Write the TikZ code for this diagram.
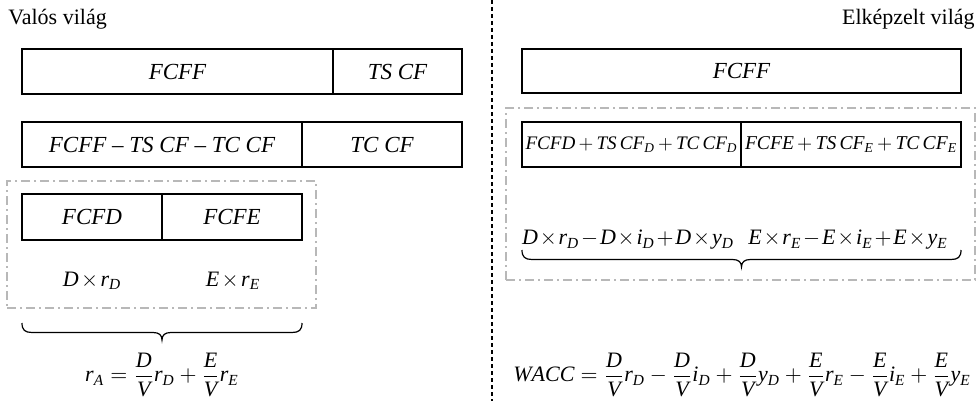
\documentclass[tikz,border=0pt]{standalone}
\usepackage{amsmath}
\usepackage{fontspec}
\setmainfont{Liberation Serif}
\newcommand\bracepath[3]{% x1, x2, y (top of ends)
  (#1,#3) .. controls (#1,{#3+7}) and ({#1+3},{#3+9.5}) .. ({#1+10},{#3+9.5})
  -- ({(#1+#2)/2-9},{#3+9.5}) .. controls ({(#1+#2)/2-3},{#3+9.5}) and ({(#1+#2)/2},{#3+12}) .. ({(#1+#2)/2},{#3+17})
  .. controls ({(#1+#2)/2},{#3+12}) and ({(#1+#2)/2+3},{#3+9.5}) .. ({(#1+#2)/2+9},{#3+9.5})
  -- ({#2-10},{#3+9.5}) .. controls ({#2-3},{#3+9.5}) and (#2,{#3+7}) .. (#2,#3)}
\begin{document}
\begin{tikzpicture}[x=0.5pt,y=-0.5pt,
  cell/.style={draw, line width=0.7pt, inner sep=0pt, font=\fontsize{11.5}{14}\selectfont\itshape},
  grp/.style={draw=black!28, line width=0.8pt, dash pattern=on 4.5pt off 2pt on 1pt off 2pt, inner sep=0pt},
  lbl/.style={font=\fontsize{11}{14}\selectfont, inner sep=0pt},
  head/.style={font=\fontsize{11}{14}\selectfont, inner sep=0pt},
  brc/.style={draw, line width=0.6pt},
  sep/.style={draw, line width=1pt, dash pattern=on 2pt off 1.5pt}]
\useasboundingbox (0,0) rectangle (977,401);
% headers
\node[head, anchor=base west] (hl) at (8,25) {Valós világ};
\node[head, anchor=base east] (hr) at (975,25) {Elképzelt világ};
% separator
\coordinate (vt) at (492,0);
\coordinate (vb) at (492,401);
\draw[sep] (vt) -- (vb);
% left side
\node[cell, minimum width=311*0.5pt, minimum height=45*0.5pt] (l1a) at (177.5,71.5) {FCFF};
\node[cell, minimum width=129*0.5pt, minimum height=45*0.5pt] (l1b) at (397.5,71.5) {TS CF};
\node[cell, minimum width=280*0.5pt, minimum height=45*0.5pt] (l2a) at (162,144.5) {FCFF – TS CF – TC CF};
\node[cell, minimum width=160*0.5pt, minimum height=45*0.5pt] (l2b) at (382,144.5) {TC CF};
\node[grp, minimum width=309*0.5pt, minimum height=127*0.5pt] (g1) at (161.5,244.5) {};
\node[cell, minimum width=140*0.5pt, minimum height=46*0.5pt] (l3a) at (92,217) {FCFD};
\node[cell, minimum width=140*0.5pt, minimum height=46*0.5pt] (l3b) at (232,217) {FCFE};
\node[lbl] (dl) at (92,281) {\medmuskip=2mu $\mathit{D\times r_D}$};
\node[lbl] (el) at (233,281) {\medmuskip=2mu $\mathit{E\times r_E}$};
\draw[brc] \bracepath{22}{302}{323};
\node[lbl] (ra) at (162,375) {$\displaystyle \mathit{r_A=\frac{D}{V}r_D+\frac{E}{V}r_E}$};
% right side
\node[cell, minimum width=439*0.5pt, minimum height=44*0.5pt] (r1) at (741.5,71) {FCFF};
\node[grp, minimum width=469*0.5pt, minimum height=172*0.5pt] (g2) at (740.5,194) {};
\node[cell, minimum width=219*0.5pt, minimum height=45*0.5pt] (r2a) at (631.5,144.5) {};
\node[cell, minimum width=220*0.5pt, minimum height=45*0.5pt] (r2b) at (851,144.5) {};
\node[lbl] (t2a) at (r2a) {\medmuskip=3mu \resizebox{106pt}{!}{$\mathit{FCFD+TS\,CF_D+TC\,CF_D}$}};
\node[lbl] (t2b) at (r2b) {\medmuskip=3mu \resizebox{106pt}{!}{$\mathit{FCFE+TS\,CF_E+TC\,CF_E}$}};
\node[lbl] (dr) at (628,240) {\medmuskip=1.5mu $\mathit{D\times r_D-D\times i_D+D\times y_D}$};
\node[lbl] (er) at (848,240) {\medmuskip=1.5mu $\mathit{E\times r_E-E\times i_E+E\times y_E}$};
\draw[brc] \bracepath{522}{961}{250};
\node[lbl] (wacc) at (742,375) {$\displaystyle \mathit{WACC=\frac{D}{V}r_D-\frac{D}{V}i_D+\frac{D}{V}y_D+\frac{E}{V}r_E-\frac{E}{V}i_E+\frac{E}{V}y_E}$};
\end{tikzpicture}
\end{document}
